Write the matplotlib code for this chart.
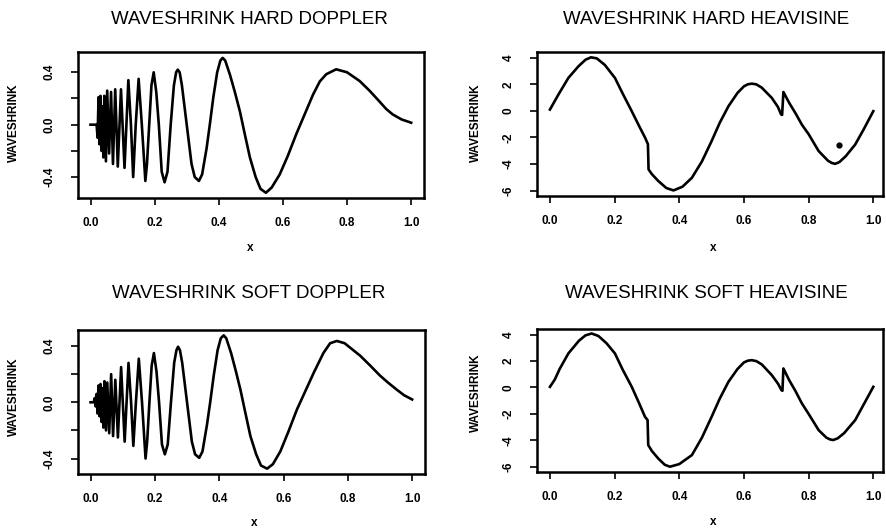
import numpy as np
import matplotlib
matplotlib.use("Agg")
import matplotlib.pyplot as plt

plt.rcParams['font.family'] = ['Liberation Sans', 'DejaVu Sans']
plt.rcParams['axes.unicode_minus'] = False

# --- values ---
hard_dop_x = [0.000, 0.015, 0.019, 0.022, 0.025, 0.028, 0.031, 0.034, 0.037, 0.040,
              0.043, 0.048, 0.052, 0.058, 0.064, 0.070, 0.077, 0.085, 0.095, 0.106,
              0.118, 0.126, 0.133, 0.141, 0.150, 0.160, 0.171, 0.176, 0.183, 0.190,
              0.197, 0.205, 0.213, 0.222, 0.231, 0.240, 0.250, 0.260, 0.267, 0.272,
              0.278, 0.285, 0.300, 0.315, 0.325, 0.338, 0.348, 0.362, 0.372, 0.383,
              0.395, 0.405, 0.412, 0.420, 0.435, 0.450, 0.466, 0.480, 0.497, 0.515,
              0.530, 0.547, 0.565, 0.590, 0.615, 0.642, 0.668, 0.694, 0.715, 0.735,
              0.766, 0.800, 0.839, 0.870, 0.900, 0.922, 0.942, 0.970, 1.000]
hard_dop_y = [0.00, 0.00, 0.00, -0.10, 0.21, -0.15, 0.22, -0.20, 0.14, -0.25,
              0.22, -0.28, 0.26, -0.22, 0.25, -0.30, 0.27, -0.32, 0.27, -0.33,
              0.34, 0.00, -0.40, 0.00, 0.35, 0.00, -0.43, -0.30, 0.00, 0.30,
              0.40, 0.25, 0.00, -0.36, -0.44, -0.36, 0.00, 0.30, 0.40, 0.42,
              0.40, 0.30, 0.00, -0.30, -0.40, -0.43, -0.38, -0.18, 0.00, 0.21,
              0.40, 0.49, 0.51, 0.49, 0.38, 0.25, 0.10, -0.06, -0.25, -0.40,
              -0.49, -0.52, -0.48, -0.38, -0.24, -0.07, 0.08, 0.23, 0.33, 0.385,
              0.423, 0.40, 0.334, 0.26, 0.18, 0.12, 0.079, 0.04, 0.015]

soft_dop_x = [0.000, 0.010, 0.013, 0.016, 0.019, 0.022, 0.025, 0.028, 0.031, 0.034,
              0.037, 0.040, 0.043, 0.048, 0.052, 0.058, 0.064, 0.070, 0.077, 0.085,
              0.095, 0.106, 0.118, 0.126, 0.133, 0.141, 0.150, 0.160, 0.171, 0.176,
              0.183, 0.190, 0.197, 0.205, 0.213, 0.222, 0.231, 0.240, 0.250, 0.260,
              0.267, 0.272, 0.278, 0.285, 0.300, 0.315, 0.325, 0.338, 0.348, 0.362,
              0.372, 0.383, 0.395, 0.405, 0.414, 0.422, 0.437, 0.452, 0.466, 0.480,
              0.497, 0.515, 0.530, 0.549, 0.567, 0.590, 0.615, 0.642, 0.668, 0.694,
              0.724, 0.745, 0.766, 0.790, 0.839, 0.870, 0.900, 0.925, 0.952, 0.975,
              1.000]
soft_dop_y = [0.00, 0.00, 0.03, -0.03, 0.06, -0.08, 0.12, -0.10, 0.13, -0.14,
              0.10, -0.18, 0.15, -0.20, 0.14, -0.22, 0.20, -0.24, 0.16, -0.25,
              0.25, -0.28, 0.28, 0.00, -0.31, 0.00, 0.31, 0.00, -0.40, -0.28,
              0.00, 0.26, 0.35, 0.22, 0.00, -0.30, -0.37, -0.30, 0.00, 0.28,
              0.37, 0.395, 0.37, 0.28, 0.00, -0.28, -0.37, -0.395, -0.35, -0.16,
              0.00, 0.19, 0.37, 0.455, 0.476, 0.455, 0.35, 0.22, 0.09, -0.06,
              -0.24, -0.37, -0.45, -0.472, -0.44, -0.35, -0.21, -0.05, 0.08, 0.21,
              0.35, 0.42, 0.436, 0.42, 0.33, 0.26, 0.19, 0.14, 0.09, 0.05,
              0.02]

hard_hs_x = [0.000, 0.026, 0.057, 0.088, 0.110, 0.127, 0.145, 0.170, 0.201, 0.225,
             0.253, 0.275, 0.294, 0.303, 0.305, 0.315, 0.335, 0.360, 0.382, 0.410,
             0.439, 0.470, 0.500, 0.525, 0.552, 0.580, 0.600, 0.612, 0.624, 0.638,
             0.655, 0.686, 0.705, 0.715, 0.718, 0.722, 0.740, 0.760, 0.779, 0.800,
             0.831, 0.860, 0.872, 0.882, 0.895, 0.915, 0.944, 0.970, 1.000]
hard_hs_y = [0.10, 1.22, 2.48, 3.35, 3.85, 4.03, 3.95, 3.45, 2.48, 1.30,
             -0.02, -1.10, -2.00, -2.50, -4.40, -4.75, -5.27, -5.80, -5.98, -5.70,
             -5.03, -3.80, -2.27, -0.90, 0.35, 1.35, 1.85, 2.00, 2.05, 2.00,
             1.75, 0.98, 0.30, -0.27, -0.30, 1.42, 0.60, -0.20, -1.03, -1.75,
             -3.02, -3.75, -3.92, -3.98, -3.85, -3.40, -2.53, -1.40, -0.02]
hard_hs_dot = (0.893, -2.58)

soft_hs_x = [0.000, 0.015, 0.030, 0.057, 0.090, 0.110, 0.129, 0.150, 0.175, 0.201,
             0.225, 0.253, 0.275, 0.294, 0.302, 0.304, 0.315, 0.335, 0.355, 0.371,
             0.400, 0.439, 0.470, 0.500, 0.525, 0.552, 0.580, 0.600, 0.612, 0.624,
             0.638, 0.655, 0.686, 0.705, 0.716, 0.719, 0.722, 0.740, 0.760, 0.779,
             0.800, 0.831, 0.855, 0.866, 0.876, 0.890, 0.910, 0.944, 0.970, 1.000]
soft_hs_y = [0.05, 0.60, 1.40, 2.58, 3.55, 3.95, 4.09, 3.90, 3.35, 2.58,
             1.35, 0.05, -1.15, -2.22, -2.47, -4.36, -4.80, -5.38, -5.85, -6.00,
             -5.80, -5.12, -3.80, -2.22, -0.85, 0.43, 1.40, 1.90, 2.03, 2.07,
             2.00, 1.75, 0.94, 0.30, -0.20, -0.25, 1.44, 0.55, -0.30, -1.20,
             -2.00, -3.23, -3.80, -3.93, -3.98, -3.85, -3.45, -2.47, -1.30, 0.05]

x_ticks = [0.0, 0.2, 0.4, 0.6, 0.8, 1.0]
dop_ticks = [-0.4, -0.2, 0.0, 0.2, 0.4]
dop_labels = ['-0.4', '', '0.0', '', '0.4']
hs_ticks = [-6, -4, -2, 0, 2, 4]
hs_labels = ['-6', '-4', '-2', '0', '2', '4']

W, H = 886, 530
fig = plt.figure(figsize=(W / 100, H / 100), dpi=100)


def px_axes(l, t, r, b):
    return fig.add_axes([l / W, 1 - b / H, (r - l) / W, (b - t) / H])


def style(ax, yticks, ylabels, ylim, xlim):
    ax.set_xlim(*xlim)
    ax.set_ylim(*ylim)
    ax.set_xticks(x_ticks)
    ax.set_xticklabels(['%.1f' % v for v in x_ticks], fontsize=8.5, fontweight='bold')
    ax.set_yticks(yticks)
    ax.set_yticklabels(ylabels, fontsize=8.5, fontweight='bold', rotation=90, va='center')
    ax.tick_params(axis='x', length=5, width=1.2, pad=9)
    ax.tick_params(axis='y', length=5, width=1.2, pad=11)
    for s in ax.spines.values():
        s.set_linewidth(1.8)


panels = [
    ((77.7, 52, 424, 198), hard_dop_x, hard_dop_y, dop_ticks, dop_labels, (-0.56, 0.555),
     (-0.04, 1.04), 'WAVESHRINK HARD DOPPLER', (249, 19), (14, 123), (250, 248)),
    ((537, 52, 883, 196), hard_hs_x, hard_hs_y, hs_ticks, hs_labels, (-6.4, 4.43),
     (-0.04, 1.03), 'WAVESHRINK HARD HEAVISINE', (706, 19), (476, 123), (713, 248)),
    ((77.7, 330, 425, 474), soft_dop_x, soft_dop_y, dop_ticks, dop_labels, (-0.51, 0.514),
     (-0.04, 1.04), 'WAVESHRINK SOFT DOPPLER', (249, 294), (14, 397), (254, 523)),
    ((537, 329, 883, 472), soft_hs_x, soft_hs_y, hs_ticks, hs_labels, (-6.4, 4.43),
     (-0.04, 1.03), 'WAVESHRINK SOFT HEAVISINE', (706, 294), (476, 393), (713, 522)),
]

for box, xs, ys, yt, yl, ylim, xlim, title, tpos, ylpos, xlpos in panels:
    ax = px_axes(*box)
    ax.plot(xs, ys, color='black', lw=1.9, solid_joinstyle='round')
    style(ax, yt, yl, ylim, xlim)
    fig.text(tpos[0] / W, 1 - tpos[1] / H, title, ha='center', va='center', fontsize=13.5)
    fig.text(ylpos[0] / W, 1 - ylpos[1] / H, 'WAVESHRINK', ha='center', va='center',
             rotation=90, fontsize=8.5, fontweight='bold')
    fig.text(xlpos[0] / W, 1 - xlpos[1] / H, 'x', ha='center', va='center',
             fontsize=8.5, fontweight='bold')
    if title == 'WAVESHRINK HARD HEAVISINE':
        ax.plot([hard_hs_dot[0]], [hard_hs_dot[1]], 'o', color='black', ms=3.5)

fig.savefig('out.png', dpi=100)
